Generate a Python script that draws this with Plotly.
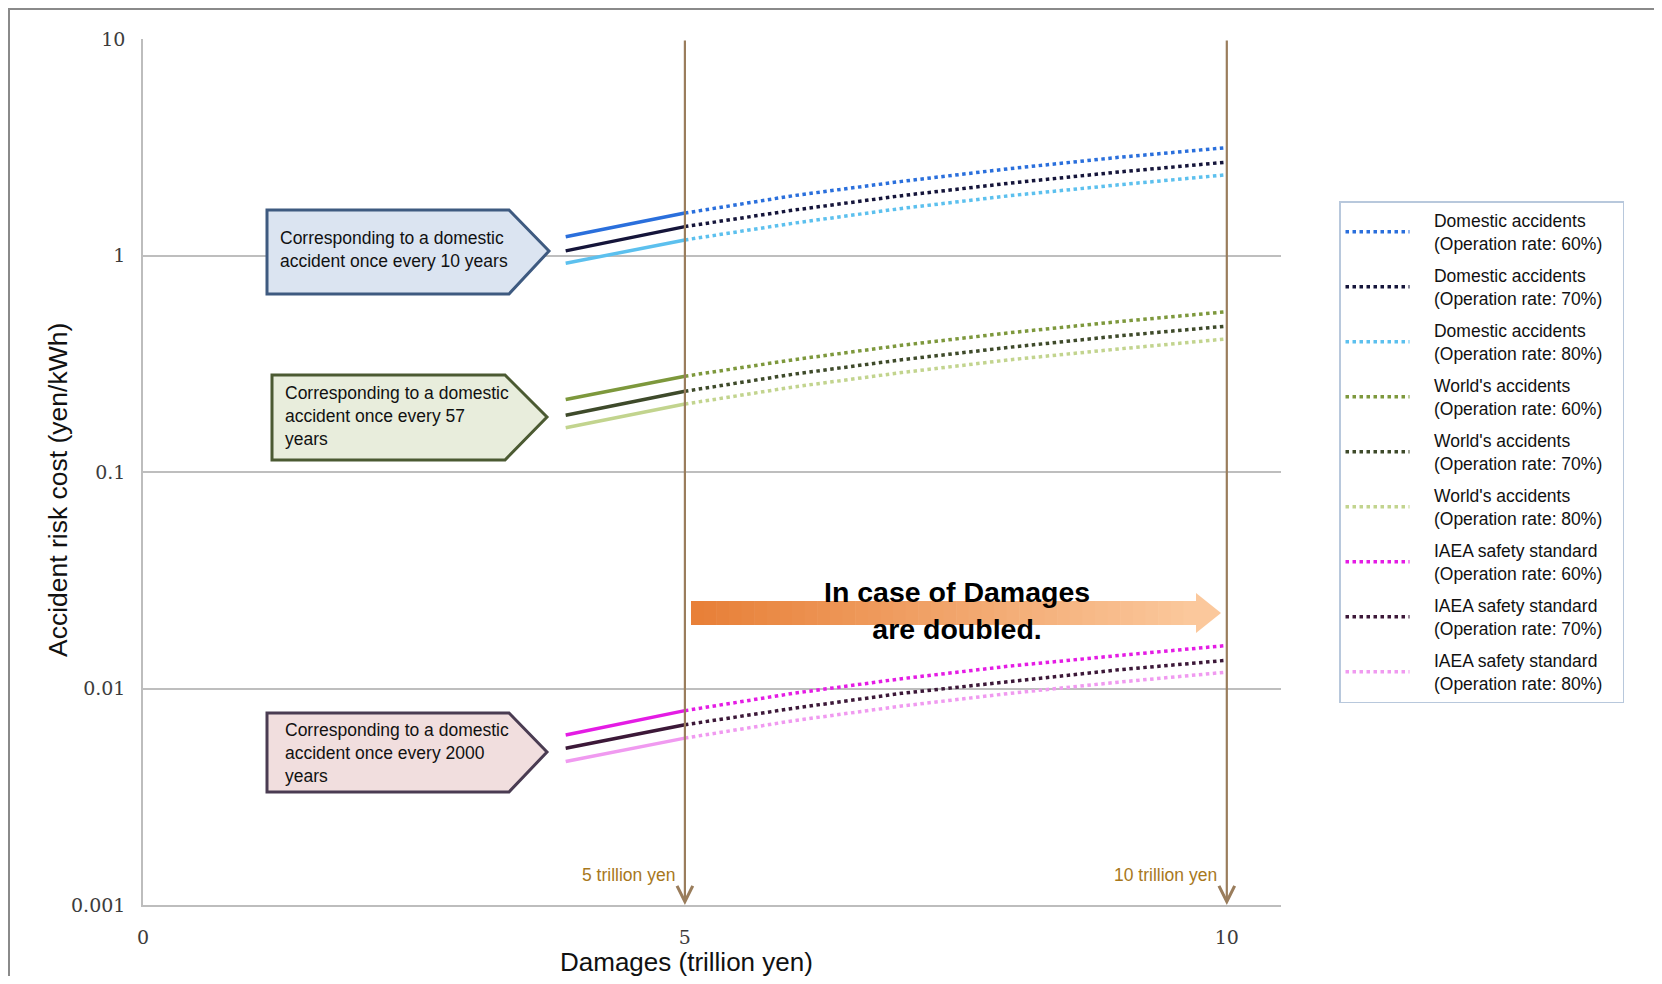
import plotly.graph_objects as go

# ---------------- data ----------------
damage_solid = [3.9, 5.0]
damage_dotted = [5, 6, 7, 8, 9, 10]

dom60_solid = [1.22, 1.57]
dom60_dotted = [1.57, 1.89, 2.20, 2.52, 2.84, 3.15]
dom70_solid = [1.05, 1.36]
dom70_dotted = [1.36, 1.62, 1.89, 2.16, 2.43, 2.70]
dom80_solid = [0.92, 1.18]
dom80_dotted = [1.18, 1.41, 1.65, 1.89, 2.12, 2.36]

wld60_solid = [0.216, 0.277]
wld60_dotted = [0.277, 0.33, 0.385, 0.44, 0.495, 0.55]
wld70_solid = [0.183, 0.236]
wld70_dotted = [0.236, 0.283, 0.33, 0.377, 0.425, 0.472]
wld80_solid = [0.160, 0.206]
wld80_dotted = [0.206, 0.247, 0.288, 0.33, 0.37, 0.412]

iaea60_solid = [0.0061, 0.0079]
iaea60_dotted = [0.0079, 0.0095, 0.0111, 0.0127, 0.0142, 0.0158]
iaea70_solid = [0.0053, 0.0068]
iaea70_dotted = [0.0068, 0.0081, 0.0095, 0.0108, 0.0122, 0.0135]
iaea80_solid = [0.0046, 0.0059]
iaea80_dotted = [0.0059, 0.0071, 0.0083, 0.0095, 0.0107, 0.0119]

series_groups = ["Domestic accidents", "Domestic accidents", "Domestic accidents",
                 "World's accidents", "World's accidents", "World's accidents",
                 "IAEA safety standard", "IAEA safety standard", "IAEA safety standard"]
series_rates = ["(Operation rate: 60%)", "(Operation rate: 70%)", "(Operation rate: 80%)",
                "(Operation rate: 60%)", "(Operation rate: 70%)", "(Operation rate: 80%)",
                "(Operation rate: 60%)", "(Operation rate: 70%)", "(Operation rate: 80%)"]
series_solid = [dom60_solid, dom70_solid, dom80_solid,
                wld60_solid, wld70_solid, wld80_solid,
                iaea60_solid, iaea70_solid, iaea80_solid]
series_dotted = [dom60_dotted, dom70_dotted, dom80_dotted,
                 wld60_dotted, wld70_dotted, wld80_dotted,
                 iaea60_dotted, iaea70_dotted, iaea80_dotted]
series_colors = ["#2a6fdc", "#15153a", "#5cc0ee",
                 "#7d983c", "#3e4a2a", "#c2d48e",
                 "#e41ce4", "#3c1838", "#f09af0"]

y_tickvals = [0.001, 0.01, 0.1, 1, 10]
y_ticktext = ["0.001", "0.01", "0.1", "1", "10"]
x_tickvals = [0, 5, 10]
x_ticktext = ["0", "5", "10"]
marker_damages = [5, 10]
marker_labels = ["5 trillion yen", "10 trillion yen"]

# ---------------- layout geometry (page pixels) ----------------
OFF = 8                      # default page margin around the figure
FW, FH = 1662 - 2 * OFF, 984 - 2 * OFF
PL, PR, PT, PB = 143, 1281, 39, 905


def px(x):
    return (x - PL) / (PR - PL)


def py(y):
    return (PB - y) / (PB - PT)


FONT = "Liberation Sans, Arial, sans-serif"
SERIF = "DejaVu Serif, serif"
NB = "\u00a0"

fig = go.Figure()

for i in range(len(series_groups)):
    grp = "g%d" % i
    name = NB * 4 + series_groups[i] + "<br>" + NB * 4 + series_rates[i] + NB * 3
    fig.add_trace(go.Scatter(
        x=damage_solid, y=series_solid[i], mode="lines",
        line=dict(color=series_colors[i], width=3.5),
        legendgroup=grp, showlegend=False, hoverinfo="skip"))
    fig.add_trace(go.Scatter(
        x=damage_dotted, y=series_dotted[i], mode="lines", name=name,
        line=dict(color=series_colors[i], width=3.5, dash="dot"),
        legendgroup=grp, showlegend=True))

shapes = []
annotations = []

# outer frame
shapes.append(dict(type="rect", xref="paper", yref="paper",
                   x0=px(9), x1=px(1700), y0=py(9), y1=py(1100),
                   line=dict(color="#8a8a8a", width=2), fillcolor="rgba(0,0,0,0)"))

# brown vertical marker arrows + labels
for d, lab in zip(marker_damages, marker_labels):
    annotations.append(dict(x=d, y=-3, ax=d, ay=1, xref="x", yref="y",
                            axref="x", ayref="y", text="", showarrow=True,
                            arrowhead=5, arrowsize=1.4, arrowwidth=2.2,
                            arrowcolor="#9a7d5c"))
    annotations.append(dict(x=d, y=py(875), xref="x", yref="paper",
                            text=lab, showarrow=False, xanchor="right",
                            yanchor="middle", xshift=-8,
                            font=dict(family=FONT, size=17.5, color="#a8781c")))

# callout pentagons
callouts = [
    dict(x0=267, xb=509, xt=549, y0=210, y1=294, ym=251, fill="#dbe4f1", line="#3e5a80",
         tx=278, ty=249,
         text="Corresponding to a domestic<br>accident once every 10 years"),
    dict(x0=272, xb=505, xt=547, y0=375, y1=460, ym=417, fill="#e8eddc", line="#4b5a32",
         tx=283, ty=416,
         text="Corresponding to a domestic<br>accident once every 57<br>years"),
    dict(x0=267, xb=509, xt=547, y0=713, y1=792, ym=752, fill="#f1dede", line="#4a3c52",
         tx=283, ty=753,
         text="Corresponding to a domestic<br>accident once every 2000<br>years"),
]
for c in callouts:
    path = "M{a},{b} L{c},{b} L{d},{e} L{c},{f} L{a},{f} Z".format(
        a=px(c["x0"]), b=py(c["y0"]), c=px(c["xb"]), d=px(c["xt"]),
        e=py(c["ym"]), f=py(c["y1"]))
    shapes.append(dict(type="path", xref="paper", yref="paper", path=path,
                       fillcolor=c["fill"], line=dict(color=c["line"], width=3)))
    annotations.append(dict(x=px(c["tx"]), y=py(c["ty"]), xref="paper", yref="paper",
                            text=c["text"], showarrow=False, xanchor="left",
                            yanchor="middle", align="left",
                            font=dict(family=FONT, size=17.5, color="#111111")))

# orange gradient arrow
ax0, ahead, atip = 691, 1196, 1221
sy0, sy1, hy0, hy1, ymid = 601, 625, 593, 633, 613
c0 = (232, 128, 56)
c1 = (251, 200, 156)
N = 40
for k in range(N):
    t0 = ax0 + (ahead - ax0) * k / N
    t1 = ax0 + (ahead - ax0) * (k + 1) / N + 0.6
    f = k / (N - 1)
    col = "rgb(%d,%d,%d)" % tuple(int(c0[j] + (c1[j] - c0[j]) * f) for j in range(3))
    shapes.append(dict(type="rect", xref="paper", yref="paper",
                       x0=px(t0), x1=px(t1), y0=py(sy1), y1=py(sy0),
                       fillcolor=col, line=dict(width=0)))
head_path = "M{a},{b} L{c},{d} L{a},{e} Z".format(
    a=px(ahead), b=py(hy0), c=px(atip), d=py(ymid), e=py(hy1))
shapes.append(dict(type="path", xref="paper", yref="paper", path=head_path,
                   fillcolor="rgb(251,200,156)", line=dict(width=0)))

annotations.append(dict(x=px(957), y=py(610), xref="paper", yref="paper",
                        text="<b>In case of Damages<br>are doubled.</b>",
                        showarrow=False, xanchor="center", yanchor="middle",
                        font=dict(family=FONT, size=28.5, color="#000000")))

# axis titles
annotations.append(dict(x=px(686), y=py(962), xref="paper", yref="paper",
                        text="Damages (trillion yen)", showarrow=False,
                        xanchor="center", yanchor="middle",
                        font=dict(family=FONT, size=26, color="#111111")))
annotations.append(dict(x=px(58), y=py(490), xref="paper", yref="paper",
                        text="Accident risk cost (yen/kWh)", showarrow=False,
                        textangle=-90, xanchor="center", yanchor="middle",
                        font=dict(family=FONT, size=26.5, color="#111111")))

fig.update_layout(
    width=FW, height=FH, autosize=False,
    margin=dict(l=PL - OFF, r=FW - (PR - OFF), t=PT - OFF, b=FH - (PB - OFF), pad=0),
    paper_bgcolor="white", plot_bgcolor="white",
    shapes=shapes, annotations=annotations,
    showlegend=True,
    legend=dict(x=px(1339), y=py(201), xanchor="left", yanchor="top",
                bordercolor="#b8c8dc", borderwidth=1.5, bgcolor="white",
                font=dict(family=FONT, size=17.5, color="#111111"),
                itemwidth=64, tracegroupgap=6.5, traceorder="grouped"),
    xaxis=dict(range=[0, 10.5], tickvals=x_tickvals, ticktext=x_ticktext,
               showgrid=False, zeroline=False, showline=True,
               linecolor="#bdbdbd", linewidth=1.5, ticks="",
               ticklabelstandoff=14,
               tickfont=dict(family=SERIF, size=19, color="#3c3c3c")),
    yaxis=dict(type="log", range=[-3, 1], tickvals=y_tickvals, ticktext=y_ticktext,
               showgrid=True, gridcolor="#bebebe", gridwidth=1.5,
               zeroline=False, showline=True, linecolor="#bdbdbd", linewidth=1.5,
               ticks="", ticklabelstandoff=12,
               tickfont=dict(family=SERIF, size=19, color="#3c3c3c")),
)

fig.write_html("out.html")
